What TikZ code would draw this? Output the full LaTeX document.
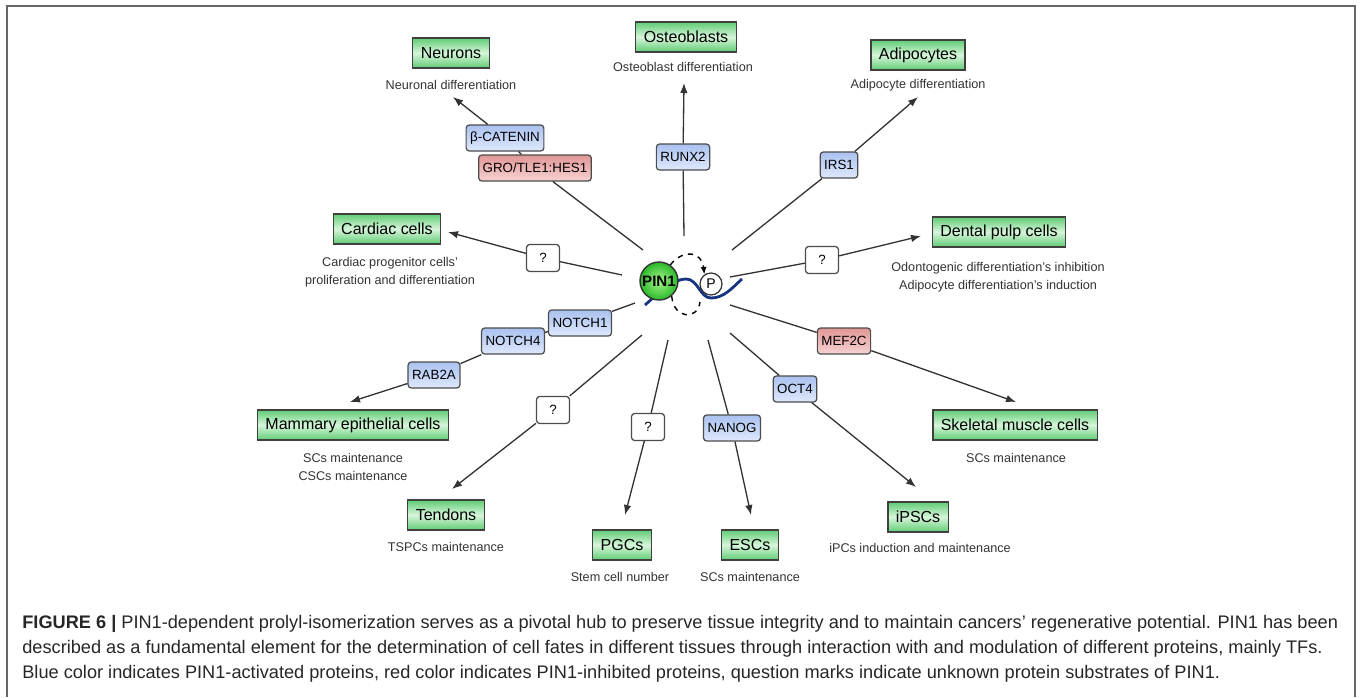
\documentclass[tikz,border=0pt]{standalone}
\usepackage{fontspec}
\setmainfont{Liberation Sans}
\usepackage{tikz}
\usetikzlibrary{arrows.meta}
\usetikzlibrary{shapes}
\definecolor{cellGreen}{RGB}{96,204,116}
\definecolor{cellLight}{RGB}{214,245,218}
\definecolor{actBlue}{RGB}{170,194,240}
\definecolor{actLight}{RGB}{222,232,252}
\definecolor{inhRed}{RGB}{226,150,150}
\definecolor{inhLight}{RGB}{246,210,210}
\definecolor{waveBlue}{RGB}{22,52,130}
\tikzset{cellBox/.style={draw=black!75, line width=0.8pt, top color=cellGreen, bottom color=cellGreen, middle color=cellLight, minimum height=0.6cm, inner xsep=0.16cm, font=\fontsize{9.1}{11}\selectfont}}
\tikzset{protBox/.style={draw=black!70, line width=0.7pt, rounded corners=1.8pt, minimum height=0.52cm, inner xsep=0.08cm, font=\fontsize{7.6}{9}\selectfont}}
\tikzset{actBox/.style={protBox, top color=actBlue, bottom color=actLight}}
\tikzset{inhBox/.style={protBox, top color=inhRed, bottom color=inhLight}}
\tikzset{qBox/.style={protBox, fill=white, minimum width=0.66cm, minimum height=0.54cm}}
\tikzset{noteTxt/.style={align=center, inner sep=1pt, text=black!80, font=\fontsize{7.2}{10.5}\selectfont}}
\tikzset{link/.style={draw=black!80, line width=0.75pt}}
\tikzset{arr/.style={link, -{Latex[length=2mm,width=1.5mm]}}}
\tikzset{capTxt/.style={anchor=west, inner sep=0pt, text=black!85, font=\fontsize{10.35}{12}\selectfont}}

\begin{document}
\begin{tikzpicture}[x=0.02cm, y=-0.02cm]

\useasboundingbox (0,0) rectangle (1360,697);
\draw[black!60, line width=0.04cm] (7,697) -- (7,6) -- (1355,6) -- (1355,697);

% substrate chain behind PIN1
\draw[waveBlue, line width=1.6pt] (645,305) .. controls (660,292) and (670,280) .. (686,279) .. controls (698,279) and (700,298) .. (711,298) .. controls (724,298) and (732,288) .. (742,279);

\node[circle, draw=black!80, line width=0.8pt, inner color={rgb,255:red,170;green,245;blue,140}, outer color={rgb,255:red,40;green,185;blue,40}, minimum size=0.76cm, inner sep=0pt, font=\fontsize{8.6}{10}\bfseries] (pin) at (659,281) {PIN1};
\node[circle, draw=black!80, line width=0.7pt, fill=white, minimum size=0.44cm, inner sep=0pt, font=\fontsize{8}{9}\selectfont] (phos) at (711,284) {P};

\draw[black, line width=0.8pt, dashed, -{Latex[length=1.5mm,width=1.2mm]}] (pin.55) .. controls (684,248) and (702,252) .. (phos.125);
\draw[black, line width=0.8pt, dashed] (pin.-50) .. controls (674,320) and (698,320) .. (700,302);

% cell types
\node[cellBox] (neu) at (451,53) {Neurons};
\node[noteTxt] (neuT) at (451,85) {Neuronal differentiation};
\node[cellBox] (ost) at (686,37) {Osteoblasts};
\node[noteTxt] (ostT) at (683,67) {Osteoblast differentiation};
\node[cellBox] (adi) at (918,55) {Adipocytes};
\node[noteTxt] (adiT) at (918,85) {Adipocyte differentiation};
\node[cellBox] (car) at (387,229) {Cardiac cells};
\node[noteTxt] (carT) at (390,272) {Cardiac progenitor cells'\\proliferation and differentiation};
\node[cellBox] (den) at (999,232) {Dental pulp cells};
\node[noteTxt] (denT) at (998,277) {Odontogenic differentiation's inhibition\\Adipocyte differentiation's induction};
\node[cellBox] (mam) at (353,425) {Mammary epithelial cells};
\node[noteTxt] (mamT) at (353,467) {SCs maintenance\\CSCs maintenance};
\node[cellBox] (ske) at (1015,425) {Skeletal muscle cells};
\node[noteTxt] (skeT) at (1016,458) {SCs maintenance};
\node[cellBox] (ten) at (446,515) {Tendons};
\node[noteTxt] (tenT) at (446,547) {TSPCs maintenance};
\node[cellBox] (pgc) at (622,545) {PGCs};
\node[noteTxt] (pgcT) at (620,577) {Stem cell number};
\node[cellBox] (esc) at (750,545) {ESCs};
\node[noteTxt] (escT) at (750,577) {SCs maintenance};
\node[cellBox] (ips) at (918,517) {iPSCs};
\node[noteTxt] (ipsT) at (920,548) {iPCs induction and maintenance};

% substrates
\node[actBox] (bcat) at (505,138) {β-CATENIN};
\node[inhBox] (gro) at (535,168) {GRO/TLE1:HES1};
\node[actBox] (runx) at (683,157) {RUNX2};
\node[actBox] (irs) at (839,165) {IRS1};
\node[qBox] (qCar) at (543,258) {?};
\node[qBox] (qDen) at (822,260) {?};
\node[actBox] (nt1) at (580,323) {NOTCH1};
\node[actBox] (nt4) at (513,341) {NOTCH4};
\node[actBox] (rab) at (434,375) {RAB2A};
\node[inhBox] (mef) at (844,341) {MEF2C};
\node[actBox] (oct) at (795,389) {OCT4};
\node[actBox] (nan) at (732,428) {NANOG};
\node[qBox] (qTen) at (553,410) {?};
\node[qBox] (qPgc) at (648,427) {?};

% inner ends of the spokes
\coordinate (sNeu) at (643,250);
\coordinate (sOst) at (684,236);
\coordinate (sAdi) at (732,250);
\coordinate (sDen) at (730,277);
\coordinate (sCar) at (622,275);
\coordinate (sMam) at (635,303);
\coordinate (sTen) at (642,335);
\coordinate (sPgc) at (668,340);
\coordinate (sEsc) at (708,340);
\coordinate (sIps) at (730,333);
\coordinate (sSke) at (730,305);

% arrow tips
\coordinate (tNeu) at (453,97);
\coordinate (tOst) at (684,83);
\coordinate (tAdi) at (918,97);
\coordinate (tDen) at (921,236);
\coordinate (tCar) at (448,232);
\coordinate (tMam) at (350,402);
\coordinate (tTen) at (452,489);
\coordinate (tPgc) at (625,515);
\coordinate (tEsc) at (751,515);
\coordinate (tIps) at (916,487);
\coordinate (tSke) at (1016,402);

\draw[link] (sNeu) -- (gro);
\draw[link] (gro) -- (bcat);
\draw[arr] (bcat) -- (tNeu);
\draw[link] (sOst) -- (runx);
\draw[arr] (runx) -- (tOst);
\draw[link] (sAdi) -- (irs);
\draw[arr] (irs) -- (tAdi);
\draw[link] (sDen) -- (qDen);
\draw[arr] (qDen) -- (tDen);
\draw[link] (sCar) -- (qCar);
\draw[arr] (qCar) -- (tCar);
\draw[link] (sMam) -- (nt1);
\draw[link] (nt1) -- (nt4);
\draw[link] (nt4) -- (rab);
\draw[arr] (rab) -- (tMam);
\draw[link] (sTen) -- (qTen);
\draw[arr] (qTen) -- (tTen);
\draw[link] (sPgc) -- (qPgc);
\draw[arr] (qPgc) -- (tPgc);
\draw[link] (sEsc) -- (nan);
\draw[arr] (nan) -- (tEsc);
\draw[link] (sIps) -- (oct);
\draw[arr] (oct) -- (tIps);
\draw[link] (sSke) -- (mef);
\draw[arr] (mef) -- (tSke);

% caption
\node[capTxt] (cap1) at (22,624) {\textbf{FIGURE 6 |} PIN1-dependent prolyl-isomerization serves as a pivotal hub to preserve tissue integrity and to maintain cancers' regenerative potential. PIN1 has been};
\node[capTxt] (cap2) at (22,649) {described as a fundamental element for the determination of cell fates in different tissues through interaction with and modulation of different proteins, mainly TFs.};
\node[capTxt] (cap3) at (22,674) {Blue color indicates PIN1-activated proteins, red color indicates PIN1-inhibited proteins, question marks indicate unknown protein substrates of PIN1.};

\end{tikzpicture}
\end{document}
